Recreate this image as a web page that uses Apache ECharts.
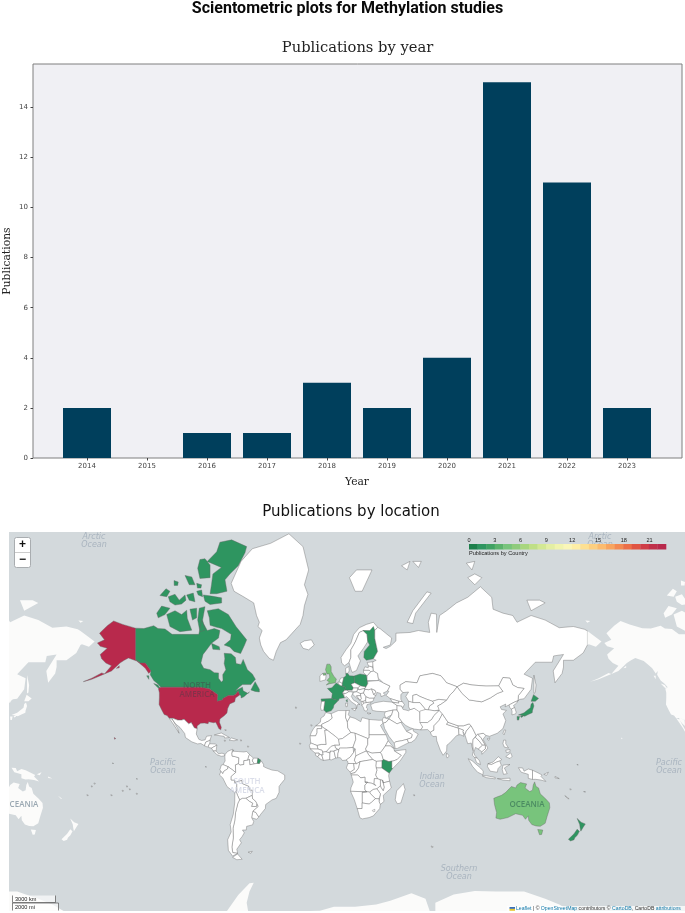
<!DOCTYPE html>
<html><head><meta charset="utf-8">
<script src="https://cdn.jsdelivr.net/npm/echarts@6/dist/echarts.min.js"></script>
<style>html,body{margin:0;padding:0;background:#fff}#c{width:685px;height:913px}</style>
</head><body><div id="c"></div>
<script>
// ---- bar chart data ----
const years = ['2014','2015','2016','2017','2018','2019','2020','2021','2022','2023'];
const publications = [2,0,1,1,3,2,4,15,11,2];
const yTicks = [0,2,4,6,8,10,12,14];

// ---- choropleth data ----
const countryNames = ['United States','Canada','United Kingdom','Australia','France','Spain','Germany','Poland','Finland','Japan','Kenya','New Zealand'];
const countryPublications = [23,1,4,4,1,1,1,1,1,1,1,1];
const legendTicks = ['0','3','6','9','12','15','18','21'];
const legendColors = ['#1d7f4c','#2e9560','#3fa163','#5bb26c','#78c47c','#8fcb7c','#a8d67e','#bfdf86','#d3e893','#e4efa3','#f1f4ae','#faf6b8','#fdeea6','#fde092','#fdcf80','#fcbb6e','#f8a45e','#f38a52','#ec6f48','#e05543','#cf3d47','#c0304a','#b8294c'];

// ---- geography: lon/lat outlines ----
const northAmerica = {
 'Canada':[
  [[-141,69.6],[-135,69.5],[-128,70.2],[-125,69.5],[-120,69.4],[-115,68],[-108,68],[-102,68],[-96,68],[-94,71.5],[-90,69],[-85,69.5],[-81,69],[-82,67],[-87,65.5],[-90,63.8],[-93,62],[-94.5,59],[-92.5,57],[-88,56.5],[-85,55.3],[-82,55.2],[-82,53],[-80,51.3],[-78.8,52],[-79,54.5],[-76.8,56.5],[-78,58.8],[-77.5,60.5],[-78,62.4],[-73,62.2],[-70,61],[-69.5,58.8],[-66,58.5],[-64.5,60.3],[-61.5,56.5],[-58,54.8],[-55.8,52.5],[-59,50.2],[-65,50.2],[-67,49.2],[-70,47.3],[-65,49],[-64.5,47.3],[-61,46],[-60,46.8],[-64,44.3],[-66,43.7],[-66,45],[-67,45.2],[-68,47.2],[-70,45.5],[-71.5,45],[-75,45],[-79,43.4],[-79,42.8],[-83,42],[-82.5,45.3],[-84.7,46.5],[-88.5,48.2],[-95,49],[-123,49],[-125,50.5],[-128,52],[-130.5,54.5],[-130,56],[-134,59],[-137.5,59],[-141,60.2]],
  [[-90,73.5],[-82.1,73.9],[-75,72.7],[-69.6,70],[-62,66.5],[-63.5,65],[-66.3,62.3],[-71,63],[-74,64.4],[-78,65],[-73.5,66.5],[-73,68],[-79.8,69.5],[-83.3,69.8],[-88,70.3],[-88.5,72]],
  [[-118.8,72.7],[-112.9,73.5],[-108.2,72.7],[-104.6,73.6],[-104.2,71.9],[-101,69.1],[-109.4,68.7],[-116.5,70]],
  [[-125.9,73],[-122.4,74.4],[-116.5,74],[-120,72.7],[-124.8,72]],
  [[-83.3,82],[-81,82.9],[-72.7,83.1],[-62,82.5],[-63.2,81.9],[-68,80.5],[-73.9,79.5],[-77.4,78.7],[-76,77],[-83.3,76.6],[-88,76.6],[-87,78],[-86,79.5],[-80,80.3],[-90,81]],
  [[-95.2,81.2],[-91.6,81.3],[-88,80.6],[-88,79],[-95.2,78.9],[-96.8,80.2]],
  [[-92.8,76.4],[-86.9,76.2],[-79.8,75.9],[-79.8,75],[-88,74.7],[-91.6,75.3]],
  [[-105.8,79.3],[-101,79.1],[-98.7,78],[-102.8,78]],
  [[-113.6,78.6],[-110.6,78.4],[-111,77.9],[-113.5,77.9]],
  [[-97.5,78.2],[-94,78],[-94.5,77.5],[-97,77.5]],
  [[-123.6,76.3],[-119.3,77.4],[-116.5,77],[-118.8,76.1]],
  [[-117.7,76.1],[-112.9,76.5],[-109.9,75.5],[-105.8,76.4],[-105.1,75.5],[-108.2,74.8],[-112.9,74.6],[-116.5,75.2]],
  [[-104.6,76.4],[-99.9,76.7],[-98.7,75.2],[-102.8,75.5]],
  [[-97.5,77],[-94,77.2],[-93.3,76.1],[-96.4,76.4]],
  [[-102.3,73.8],[-97.5,74],[-97.5,72],[-100.5,71.5]],
  [[-95.7,74],[-91.6,74.3],[-93.3,71.5],[-91.6,69.1],[-95.2,68.7],[-96.8,71.5]],
  [[-87,65.5],[-81.5,64.5],[-81,63.5],[-86,63.7]],
  [[-59,47.7],[-56,51.5],[-53,48],[-53,46.7],[-56,47]],
  [[-128,50.7],[-125,50],[-123.5,48.5],[-125,48.7]],
  [[-133,54],[-131.5,54],[-131.5,52.5]]],
 'United States':[
  [[-124.7,48.4],[-123,49],[-95,49],[-88.5,48.2],[-84.7,46.5],[-82.5,45.3],[-83,42],[-79,42.8],[-79,43.4],[-75,45],[-71.5,45],[-70,45.5],[-68,47.2],[-67,45.2],[-70,43.7],[-70.5,41.7],[-74,40.6],[-75.5,38],[-76,35.5],[-78,33.9],[-81,32],[-81.3,30],[-80,26.8],[-80.4,25.2],[-81.8,26],[-82.8,28],[-84,30],[-85.5,29.7],[-89,30.3],[-89.4,29.1],[-92,29.5],[-94.7,29.4],[-97.2,27.7],[-97.2,25.9],[-99.2,26.5],[-101.4,29.8],[-103.2,29],[-106.5,31.8],[-108.2,31.3],[-111,31.3],[-114.8,32.5],[-117.1,32.5],[-118.5,34],[-120.6,34.6],[-122.5,37.5],[-124.2,40.3],[-124,44],[-124,46.3]],
  [[-141,69.6],[-141,60.2],[-137.5,59],[-134,59],[-130,56],[-131.5,55],[-134,57],[-136,58],[-140,59.7],[-146,60.8],[-149,60],[-152,59],[-154,58],[-158,56],[-163,54.8],[-158,58],[-162,59],[-165,60.5],[-166,62],[-161,64],[-166,64.6],[-168,65.6],[-163,66.5],[-166.5,68.3],[-161,70.2],[-156.5,71.3],[-150,70.5]],
  [[-163,54.8],[-172,52.5],[-178,51.5],[-178,51.9],[-172,53],[-165,55.2]],
  [[-154.5,57],[-152.5,58],[-152.5,57.2]],
  [[-156,20.2],[-155,19.5],[-155.8,19]]],
 'Mexico':[
  [[-114.8,32.5],[-111,31.3],[-108.2,31.3],[-106.5,31.8],[-103.2,29],[-101.4,29.8],[-99.2,26.5],[-97.2,25.9],[-97.8,22.5],[-96,19],[-94,18.2],[-91.5,18.6],[-90.5,21],[-87,21.5],[-88,18.5],[-89,17.9],[-91,17.2],[-92,14.6],[-94.5,16.2],[-97,15.9],[-101,17.3],[-105.5,20.2],[-106,22.8],[-109.3,26.7],[-112.5,29],[-114.7,31.5]],
  [[-117.1,32.5],[-115,30],[-112,26],[-110,23],[-109.5,23.3],[-111,26],[-113,29],[-114.7,31.7]]],
 'Guatemala':[[[-92,14.6],[-91,17.2],[-89,17.9],[-88,18.5],[-88.3,16],[-89.2,14.5],[-90,13.8]]],
 'Honduras':[[[-89.2,14.5],[-88.3,16],[-84,15.8],[-83.2,15],[-87,13],[-89,13.4]]],
 'Nicaragua':[[[-87,13],[-83.2,15],[-83.7,11],[-85.7,11]]],
 'Panama':[[[-85.7,11],[-83.7,11],[-82,9],[-79.5,9.5],[-77.3,8.6],[-78,7.5],[-80,7.3],[-83,8.3]]],
 'Cuba':[[[-85,21.9],[-80,23.2],[-74.2,20.2],[-77.7,19.9],[-78,21]]],
 'Hispaniola':[[[-74.4,18.4],[-72.8,19.9],[-68.4,18.6],[-71,18]]],
 'Greenland':[[[-73,78.2],[-66,81],[-58,82.3],[-45,82.8],[-32,83.6],[-22,82.5],[-18,80],[-21,78],[-18.5,76.5],[-21,74.5],[-22,72.5],[-24,70.5],[-30,68.2],[-34,66.5],[-38,65.7],[-41,63],[-43,60],[-46,60.7],[-50,63],[-52,65],[-53,67],[-51,69],[-54,70],[-53,71],[-55,72.5],[-57,75],[-65,76.2],[-71,77]]]
};
const southAmerica = {
 'Colombia':[[[-77.3,8.6],[-75.5,10.7],[-72,12.2],[-71.3,11.8],[-72.5,9.5],[-72.3,7.4],[-70,7],[-67.5,6.2],[-67.8,2],[-70,1.2],[-69.8,-4.2],[-72,-2.4],[-75.2,-0.1],[-78.8,1.4],[-77.3,4],[-77.5,7]]],
 'Venezuela':[[[-71.3,11.8],[-71.5,10.8],[-68,10.6],[-64,10.3],[-62,10.7],[-60,8.5],[-60.7,6.8],[-61.2,4.5],[-64,4.2],[-64,1.5],[-66.8,1],[-67.8,2],[-67.5,6.2],[-70,7],[-72.3,7.4],[-72.5,9.5]]],
 'Guyana':[[[-60,8.5],[-57.2,6],[-58,4],[-56.5,1.9],[-59.8,1.3],[-60,5],[-61.2,4.5],[-60.7,6.8]]],
 'Suriname':[[[-57.2,6],[-54,5.9],[-54.5,2.3],[-56.5,1.9],[-58,4]]],
 'Ecuador':[[[-80,1],[-78.8,1.4],[-75.2,-0.1],[-75.5,-1.6],[-78.3,-3.4],[-79,-5],[-80.3,-3.4],[-81,-2.2]]],
 'Peru':[[[-80.3,-3.4],[-79,-5],[-78.3,-3.4],[-75.5,-1.6],[-75.2,-0.1],[-72,-2.4],[-69.8,-4.2],[-73,-7],[-73,-9.5],[-70.5,-9.5],[-70.5,-11],[-69,-12.5],[-69,-16.3],[-69.5,-17.5],[-70.4,-18.3],[-76,-14],[-79,-8],[-81.3,-6]]],
 'Bolivia':[[[-69.5,-17.5],[-69,-16.3],[-69,-12.5],[-70.5,-11],[-65.4,-9.7],[-65,-12],[-60.5,-13.8],[-60,-16.3],[-58,-16.5],[-57.8,-19.8],[-62.6,-22],[-65,-22],[-67,-23],[-68.5,-20]]],
 'Paraguay':[[[-62.6,-22],[-58,-20],[-57.8,-22.2],[-55.5,-24],[-54.6,-25.6],[-55,-27.3],[-58.6,-27.2],[-57.7,-25.2],[-60,-24]]],
 'Uruguay':[[[-58.4,-33.5],[-57.6,-30.2],[-55.5,-30.9],[-53.4,-33.7],[-54.9,-35],[-58.4,-34.2]]],
 'Argentina':[
  [[-67,-23],[-65,-22],[-62.6,-22],[-60,-24],[-57.7,-25.2],[-58.6,-27.2],[-55,-27.3],[-54.6,-25.6],[-53.8,-27.3],[-57.6,-30.2],[-58.4,-33.5],[-58.4,-34.2],[-57,-36.3],[-57.8,-38.2],[-62,-39],[-62.3,-41],[-65,-41],[-63.7,-42.5],[-65.3,-44.5],[-67,-46],[-65.8,-47.5],[-69,-50.5],[-68.4,-52.3],[-71.9,-52],[-72.5,-49.5],[-71.5,-45],[-71.7,-40],[-70.5,-36],[-69.9,-31],[-68.2,-25]],
  [[-68.5,-52.6],[-65.2,-54.8],[-69,-55],[-72,-54]]],
 'Chile':[[[-70.4,-18.3],[-69.5,-17.5],[-68.5,-20],[-67,-23],[-68.2,-25],[-69.9,-31],[-70.5,-36],[-71.7,-40],[-71.5,-45],[-72.5,-49.5],[-71.9,-52],[-68.4,-52.3],[-72,-53.5],[-75,-51],[-75.5,-46],[-73,-42],[-73.7,-38],[-71.5,-32],[-70.5,-25]]],
 'Brazil':[[[-51.6,4],[-50,1.5],[-50,0],[-48,-1],[-44,-2.5],[-40,-3],[-37,-4.8],[-35,-6],[-35,-9],[-37.5,-12],[-39,-14],[-39,-18],[-41,-22],[-44,-23],[-48.5,-26],[-48.7,-28.5],[-52,-32],[-53.4,-33.7],[-55.5,-30.9],[-57.6,-30.2],[-53.8,-27.3],[-54.6,-25.6],[-55.5,-24],[-57.8,-22.2],[-58,-20],[-57.8,-19.8],[-58,-16.5],[-60,-16.3],[-60.5,-13.8],[-65,-12],[-65.4,-9.7],[-70.5,-11],[-70.5,-9.5],[-73,-9.5],[-73,-7],[-69.8,-4.2],[-70,1.2],[-67.8,2],[-66.8,1],[-64,1.5],[-64,4.2],[-61.2,4.5],[-60,5],[-59.8,1.3],[-56.5,1.9],[-54.5,2.3],[-53,2.2]]],
 'Falklands':[[[-61,-51.8],[-58,-51.4],[-59,-52.3]]]
};
const africa = {
 'Morocco':[[[-5.9,35.8],[-2,35.1],[-1.2,32.5],[-3.7,30.8],[-8.7,28.7],[-8.7,27.7],[-13,27.7],[-9.7,30],[-9.3,32.5],[-7,33.8]]],
 'Western Sahara':[[[-13,27.7],[-8.7,27.7],[-8.7,26],[-12,26],[-12,23.4],[-13,21.3],[-17,21.3],[-16,23.7],[-14.5,26]]],
 'Algeria':[[[-2,35.1],[3,36.9],[8.6,36.9],[8.2,33],[9.5,30.2],[9.8,26.5],[12,23.5],[6,19.5],[3.3,19],[1.2,20.8],[-4.8,25],[-8.7,27.3],[-8.7,28.7],[-3.7,30.8],[-1.2,32.5]]],
 'Tunisia':[[[8.6,36.9],[11,37],[10.2,34.5],[11.5,33.2],[10,31],[9.5,30.2],[8.2,33]]],
 'Libya':[[[11.5,33.2],[15,32.3],[19,30.3],[20,32.8],[25,31.7],[25,20],[24,19.5],[15,23],[12,23.5],[9.8,26.5],[9.5,30.2],[10,31]]],
 'Egypt':[[[25,31.7],[32,31.2],[34.3,31.3],[34.9,29.5],[33,28],[35.5,24],[37,22],[25,22]]],
 'Mauritania':[[[-17,21.3],[-13,21.3],[-12,23.4],[-12,26],[-8.7,26],[-8.7,27.3],[-4.8,25],[-6.5,25],[-5.5,15.5],[-9,15.5],[-12,14.8],[-16.5,16.5]]],
 'Mali':[[[-4.8,25],[1.2,20.8],[3.3,19],[4,15],[0.5,15],[-2,14.2],[-5.5,10.5],[-8,10.2],[-8.5,11.5],[-11.4,12.3],[-12,14.8],[-9,15.5],[-5.5,15.5],[-6.5,25]]],
 'Niger':[[[12,23.5],[15,23],[15.5,19],[13.5,13.5],[9,13],[4,13],[3.5,11.8],[1,13.3],[0.5,15],[4,15],[3.3,19],[6,19.5]]],
 'Chad':[[[15,23],[24,19.5],[24,15.5],[22.5,12.5],[23,11],[18.5,9],[15.5,7.5],[14,10],[15,12.5],[13.5,13.5],[15.5,19]]],
 'Sudan':[[[25,22],[37,22],[38.5,18],[36.5,14.5],[34,11],[33,10],[27,9.5],[23,11],[22.5,12.5],[24,15.5],[24,19.5],[25,20]]],
 'South Sudan':[[[23,11],[27,9.5],[33,10],[34,8.5],[35,5],[34,4],[30,3.7],[27.5,5],[24.5,8.5]]],
 'Eritrea':[[[36.5,14.5],[38.5,18],[43,12.7],[40,14.5]]],
 'Ethiopia':[[[36.5,14.5],[40,14.5],[42.5,12.5],[43,11],[47.9,8],[44.9,5],[41.9,3.9],[39,3.5],[35,5],[34,8.5],[33,10],[34,11]]],
 'Somalia':[[[43,11],[51,12],[51,10],[47,4],[41.5,-1.6],[41,-0.8],[41,3.9],[41.9,3.9],[44.9,5],[47.9,8]]],
 'Kenya':[[[34,4],[35,5],[39,3.5],[41,3.9],[41,-0.8],[41.5,-1.6],[39.2,-4.7],[33.9,-1],[34,1.2]]],
 'Uganda':[[[30,3.7],[34,4],[34,1.2],[33.9,-1],[30,-1],[29.7,0.5]]],
 'Tanzania':[[[30,-1],[33.9,-1],[39.2,-4.7],[38.8,-6.5],[39.5,-10.3],[35,-11.5],[34,-9.5],[31,-8.6],[29.5,-6],[30.5,-2.5]]],
 'Senegal':[[[-16.5,16.5],[-12,14.8],[-11.4,12.3],[-16.8,12.4],[-17.5,14.7]]],
 'Guinea':[[[-16.8,12.4],[-11.4,12.3],[-8.5,11.5],[-8,10.2],[-7.7,8.4],[-9.5,8.5],[-10.7,9.5],[-13.3,9.5]]],
 'Sierra Leone':[[[-13.3,9.5],[-10.7,9.5],[-10.7,8.2],[-11.5,7],[-13,7.8]]],
 'Liberia':[[[-11.5,7],[-10.7,8.2],[-9.5,8.5],[-8.5,7.6],[-7.5,4.4],[-9.2,5]]],
 'Ivory Coast':[[[-8.5,7.6],[-7.7,8.4],[-8,10.2],[-5.5,10.5],[-2.8,9.7],[-3,5],[-7.5,4.4]]],
 'Ghana':[[[-3,5],[-2.8,11],[0,11],[0.7,8],[1.2,6],[-2,4.7]]],
 'Burkina Faso':[[[-5.5,10.5],[-2,14.2],[0.5,15],[1,13.3],[2.4,11.9],[0,11],[-2.8,11],[-2.8,9.7]]],
 'Benin':[[[0,11],[2.4,11.9],[3.5,11.8],[2.8,9],[2.7,6.3],[1.2,6],[0.7,8]]],
 'Nigeria':[[[2.7,6.3],[2.8,9],[3.5,11.8],[4,13],[9,13],[13.5,13.5],[14,10],[11.5,6.7],[8.6,4.6],[6,4.3],[4.5,6.3]]],
 'Cameroon':[[[8.6,4.6],[11.5,6.7],[14,10],[15,12.5],[15.5,7.5],[14.5,4.5],[16,2],[10,2.2],[9.7,3.8]]],
 'Central African Republic':[[[15.5,7.5],[18.5,9],[23,11],[24.5,8.5],[27.5,5],[22.5,4.2],[18.5,3.5],[16,2],[14.5,4.5]]],
 'Gabon':[[[10,2.2],[14,2.2],[14.5,-2],[11.5,-4],[8.8,-1],[9.5,1]]],
 'Congo':[[[14,2.2],[16,2],[18.5,3.5],[17.5,-1],[15,-4.3],[12,-5],[11.5,-4],[14.5,-2]]],
 'DR Congo':[[[18.5,3.5],[22.5,4.2],[27.5,5],[30,3.7],[29.7,0.5],[30,-1],[30.5,-2.5],[29.5,-6],[31,-8.6],[28.7,-8.5],[28.5,-12],[29.8,-13.4],[27,-11.8],[22,-11],[22,-7.5],[19,-8],[17,-6],[12.3,-6],[12,-5],[15,-4.3],[17.5,-1]]],
 'Angola':[[[12.3,-6],[17,-6],[19,-8],[22,-7.5],[22,-11],[24,-11],[22,-13],[22,-16.3],[23.4,-17.6],[11.8,-17.3],[12,-15],[13.7,-11],[13,-8.5]]],
 'Zambia':[[[22,-11],[27,-11.8],[29.8,-13.4],[28.5,-12],[28.7,-8.5],[31,-8.6],[33,-9.5],[33,-13.5],[30.5,-15.6],[28,-16],[25.3,-17.8],[23.4,-17.6],[22,-16.3],[22,-13],[24,-11]]],
 'Malawi':[[[33,-9.5],[34.5,-9.6],[35.8,-14.5],[35,-17],[33.3,-14.5],[33,-13.5]]],
 'Mozambique':[[[35,-11.5],[39.5,-10.3],[40.7,-15],[35,-20],[35.5,-24],[32.9,-26],[32,-24],[33,-19],[30.5,-15.6],[33,-13.5],[33.3,-14.5],[35,-17],[35.8,-14.5],[34.5,-9.6]]],
 'Zimbabwe':[[[25.3,-17.8],[28,-16],[30.5,-15.6],[33,-19],[32,-22.3],[29.4,-22.2],[26,-19]]],
 'Botswana':[[[20,-18],[23.4,-17.6],[25.3,-17.8],[26,-19],[29.4,-22.2],[26.5,-24.7],[25,-25.7],[20,-25]]],
 'Namibia':[[[11.8,-17.3],[23.4,-17.6],[20,-18],[20,-28.5],[16.5,-28.6],[14.5,-23]]],
 'South Africa':[[[16.5,-28.6],[20,-28.5],[20,-25],[25,-25.7],[26.5,-24.7],[29.4,-22.2],[32,-22.3],[32,-24],[32.9,-26],[32.5,-28.5],[28,-33],[25,-34],[20,-34.8],[18.3,-34],[17,-30]]],
 'Lesotho':[[[27.2,-29.7],[29,-29],[29,-30.3],[28,-30.6]]],
 'Madagascar':[[[49.3,-12],[50.5,-16],[47.5,-25],[45,-25.5],[43.5,-23],[44.5,-17],[48,-13.5]]]
};
const europe = {
 'Iceland':[[[-24,65.5],[-21,66.2],[-16,66.5],[-14,65],[-18,63.5],[-22,64]]],
 'Svalbard':[[[11,79],[16,80],[27,80],[20,77],[15,77]]],
 'Norway':[[[5,61],[5.5,59],[7.5,58],[10.7,59.2],[12,61],[12,63.5],[14,65],[15.5,66.2],[18,68.5],[21,69],[25,68.6],[29,69],[31,69.8],[28,71],[23,70.5],[18,69.7],[14,68],[12,65.5],[8.5,63.5]]],
 'Sweden':[[[10.7,59.2],[12.3,56.3],[13,55.4],[16,56.2],[18.8,59.8],[17,61.5],[21,64],[24,66],[23.5,68],[21,69],[18,68.5],[15.5,66.2],[14,65],[12,63.5],[12,61]]],
 'Finland':[[[20.6,69],[23.5,68],[24,66],[25.3,65],[21.5,63],[21.2,61],[23,60],[28,60.5],[31,63],[29,66.9],[29,69],[28,70],[25.5,69]]],
 'Denmark':[[[8.2,57],[10.6,57.7],[10.8,56],[9.8,55],[8.4,55]]],
 'United Kingdom':[
  [[-5,58.6],[-3,58.6],[-2,57.6],[-2,55.8],[0,53.7],[1.7,52.7],[1,51],[-3,50.6],[-5.5,50],[-3.2,51.4],[-5,52],[-3,53.4],[-3.3,54.8],[-5,54.8],[-6,56.5]],
  [[-8,55],[-6,55.2],[-5.6,54.3],[-7.5,54.2]]],
 'Ireland':[[[-8,55],[-7.5,54.2],[-5.6,54.3],[-6,52.3],[-10,51.6],[-10,54]]],
 'France':[
  [[-1.7,43.4],[-1.2,46],[-4.7,48.4],[-1.5,48.7],[1.6,50.9],[4.2,49.9],[8.2,49],[7.5,47.5],[6,46.2],[7.5,43.8],[4,43.4],[3.1,42.4]],
  [[8.6,42.3],[9.4,43],[9.5,41.5]],
  [[-54,5.9],[-52,4.6],[-51.6,4],[-53,2.2],[-54.5,2.3]]],
 'Spain':[[[-9.2,43.2],[-1.7,43.4],[3.1,42.4],[0,40],[-0.5,38.3],[-2,36.8],[-5.5,36],[-7.3,37.2],[-7,39.5],[-6.5,42],[-8.8,41.9]]],
 'Portugal':[[[-8.8,41.9],[-6.5,42],[-7,39.5],[-7.3,37.2],[-9,37],[-9.5,38.7]]],
 'Belgium':[[[2.5,51.1],[4.2,51.4],[6,50.7],[5.8,49.5],[4.2,49.9]]],
 'Netherlands':[[[3.5,51.4],[4.7,53],[7,53.3],[6,50.7],[4.2,51.4]]],
 'Germany':[[[6,50.7],[7,53.3],[8.5,54],[8.4,55],[9.8,55],[11,54],[14.2,53.9],[14.7,51],[12.2,50.3],[13.8,48.7],[13,47.5],[7.5,47.5],[8.2,49],[5.8,49.5]]],
 'Poland':[[[14.2,53.9],[18.5,54.8],[23,54.3],[24,50.6],[22.7,49.1],[19,49.4],[14.7,51]]],
 'Switzerland':[[[6,46.2],[7.5,47.5],[9.6,47.5],[10.4,46.8],[8.5,46]]],
 'Austria':[[[9.6,47.5],[13,47.5],[13.8,48.7],[17,48.7],[16.2,46.8],[12,46.8],[10.4,46.8]]],
 'Czechia':[[[12.2,50.3],[14.7,51],[18.8,49.6],[17,48.7],[13.8,48.7]]],
 'Slovakia':[[[17,48.7],[18.8,49.6],[22.5,49.1],[22,48.4],[18,47.8]]],
 'Hungary':[[[16.2,46.8],[17,48],[18,47.8],[22,48.4],[21,46.2],[18.8,45.9],[16.5,46.5]]],
 'Italy':[
  [[7.5,43.8],[6.9,45.9],[8.5,46],[10.4,46.8],[12,46.8],[13.7,46.5],[12.3,44.5],[14,42.5],[16,41.8],[18.5,40.2],[17,40.5],[16.5,39.5],[16,38],[15.7,40],[12.3,41.7],[10.3,43.5],[8.8,44.4]],
  [[12.5,38],[15.6,38.2],[15,36.7]],
  [[8.2,41],[9.7,41],[9.5,39.2],[8.5,39]]],
 'Croatia':[[[13.5,45.5],[13.7,46.5],[16.2,46.8],[18.8,45.9],[19,44.9],[16,44.8],[18.5,42.5],[15,44.3]]],
 'Bosnia':[[[16,44.8],[19,44.9],[19.5,43.3],[18.5,42.5]]],
 'Serbia':[[[18.8,45.9],[21,46.2],[22.7,44.4],[22.5,42.4],[20.6,41.9],[19.3,42],[18.5,42.5],[19.5,43.3],[19,44.9]]],
 'Albania':[[[19.3,42],[20.6,41.9],[21,40.5],[20,39.7],[19.4,41]]],
 'North Macedonia':[[[20.6,41.9],[22.5,42.4],[23,41.3],[21,40.9]]],
 'Greece':[
  [[20,39.7],[21,40.9],[23,41.3],[26.3,41.7],[26,40.8],[23.5,40.2],[23,38.5],[24,37.8],[23,36.5],[21.5,37],[21,38.4]],
  [[23.5,35.6],[26.3,35.3],[24.7,34.9]]],
 'Bulgaria':[[[22.7,44.4],[25,43.7],[28.5,43.7],[27.7,42],[26.3,41.7],[23,41.3],[22.5,42.4]]],
 'Romania':[[[21,46.2],[22,48],[24.8,47.8],[26.6,48.3],[28.2,45.5],[29.7,45],[28.5,43.7],[25,43.7],[22.7,44.4]]],
 'Moldova':[[[26.6,48.3],[29.2,47.5],[30,46.4],[28.2,45.5]]],
 'Ukraine':[[[22,48.4],[22.7,49.1],[24,50.6],[24,51.6],[31.5,52],[35,51],[39.8,49.5],[38,47.2],[35,46.2],[36.5,45.3],[33.5,44.4],[33,46],[30.7,46.5],[29.7,45],[28.2,45.5],[30,46.4],[29.2,47.5],[26.6,48.3],[24.8,47.8],[22,48]]],
 'Belarus':[[[23.5,52],[24,51.6],[31.5,52],[31.5,53],[31,55],[28,56],[26,55.7],[23.5,54]]],
 'Lithuania':[[[21,55.3],[21,56.3],[25,56.3],[26,55.7],[23.5,54],[23,54.3]]],
 'Latvia':[[[21,56.3],[22,57.6],[24.3,57.2],[24.5,58],[27.5,57.5],[28,56],[26,55.7],[25,56.3]]],
 'Estonia':[[[23.5,59.2],[28,59.5],[27.5,57.5],[24.5,58]]]
};
const asia = {
 'Russia':[
  [[31,69.8],[33,69.4],[41,67],[40,65],[35,64.3],[37,63.9],[40,64.6],[44,66.2],[44,68.3],[54,68.5],[60,69],[68,68.5],[67,71],[69,73],[72.8,72.8],[73,68.5],[75,72.5],[80,73.5],[87,75],[95,76],[104,77.7],[112,76],[113,73.8],[120,73],[127,72.5],[130,71],[140,72.5],[150,71.5],[160,69.7],[170,70],[178,69.3],[180,68.9],[180,65],[177,62.5],[170,60],[163,60],[163,57.5],[162,55],[157,51],[155.7,56],[158,58],[163,62],[156,61.5],[155,59.3],[143,59.3],[135,54.7],[141,53],[140,48],[135,43.3],[132,43],[130.7,42.3],[131,45],[135,48.4],[130.5,48.8],[127,50],[125,53],[120,53.3],[117,49.6],[108,49.5],[98,50],[92,50.8],[87.5,49.2],[80,51],[76,54],[70,55],[61,54],[59,51],[51,51.5],[47,50],[47,48],[49,46.4],[47.5,45.5],[47.5,43],[48.5,41.8],[46,42],[40,43.4],[37,45],[39,47],[38,47.2],[39.8,49.5],[35,51],[31.5,53],[31,55],[28,56],[27.5,59.4],[30,60],[28,60.5],[31,63],[29,66.9],[29,69]],
  [[52,71],[56,73.5],[66,76.9],[69,76.7],[58,73],[56,70.7]],
  [[142,54.3],[143.5,50],[143,46.5],[142,46],[142,50]],
  [[95,79],[100,79.5],[105,79],[100,78]],
  [[94,80.8],[100,81],[98,80]],
  [[137,75.5],[146,75.5],[150,75],[140,73.5]],
  [[48,80.5],[54,81],[52,80]],[[56,81],[62,81],[60,80.3]]],
 'Turkey':[[[26,40.2],[29,41.2],[35,42],[41.5,41.5],[44.8,39.7],[44.8,37.2],[42,37.2],[36.5,36.2],[30.5,36.5],[27.3,37]]],
 'Syria':[[[36.5,36.2],[42,37.2],[41,34.5],[36.8,32.4],[35.8,34.8]]],
 'Iraq':[[[41,34.5],[42,37.2],[44.8,37.2],[46,35.5],[46,33],[48.5,30],[47.7,30],[44.8,29],[39,32]]],
 'Jordan':[[[34.3,31.3],[35.2,33],[36.8,32.4],[39,32],[37,30],[35,29.4]]],
 'Saudi Arabia':[[[35,29.4],[37,30],[39,32],[44.8,29],[47.7,30],[48.5,28.5],[50.2,26],[51.5,24.3],[55,22.7],[55.7,22],[55,20],[52,19],[48,18],[44,17.4],[42.8,16.4],[39,21],[36,26]]],
 'Yemen':[[[42.8,16.4],[44,17.4],[48,18],[52,19],[53,16.7],[45,12.8],[43.5,12.7]]],
 'Oman':[[[51.5,24.3],[56,26],[56.5,24.3],[59.8,22.5],[57.8,19],[55,17],[53,16.7],[52,19],[55,20],[55.7,22],[55,22.7]]],
 'Iran':[[[44.8,39.7],[48,39.5],[49,37.6],[53,36.8],[54,37.4],[57,38.2],[61,36.6],[61,31.5],[63,27],[61.6,25.2],[57,25.7],[54,26.6],[51,28],[48.5,30],[46,33],[46,35.5],[44.8,37.2]]],
 'Georgia':[[[40,43.4],[46,42],[46,41],[41.5,41.5]]],
 'Azerbaijan':[[[46,42],[48.5,41.8],[50,40.3],[48.9,38.5],[48,39.5],[44.8,39.7],[41.5,41.5],[46,41]]],
 'Kazakhstan':[[[47,48],[47,50],[51,51.5],[59,51],[61,54],[70,55],[76,54],[80,51],[87.5,49.2],[85,47],[82.5,45.3],[80,42.5],[74.5,43],[70,42],[66,43],[61,44.5],[58.5,45.5],[56,45],[56,41.3],[53,42],[51,44.5],[53,46.7],[49,46.4]]],
 'Uzbekistan':[[[56,45],[58.5,45.5],[61,44.5],[66,43],[70,42],[71,41],[68,39.5],[67,37.3],[65,37.5],[61,41.3],[57,41.3],[56,41.3]]],
 'Turkmenistan':[[[53,42],[56,41.3],[61,41.3],[65,37.5],[61,36],[57,38.2],[54,37.4],[53,39]]],
 'Kyrgyzstan':[[[70,42],[74.5,43],[80,42.5],[76,40.4],[73.7,39.5],[75,37.3],[71.5,36.8],[67,37.3],[68,39.5],[71,41]]],
 'Afghanistan':[[[61,36.6],[65,37.5],[67,37.3],[71.5,36.8],[74.8,37],[71,34],[69.5,31.8],[66.5,29.8],[61,29.8],[61,31.5]]],
 'Pakistan':[[[61,29.8],[66.5,29.8],[69.5,31.8],[71,34],[74.8,37],[77,35],[74.5,31],[71,27.8],[71,25],[68.5,23.7],[66.5,25.4],[61.6,25.2],[63,27]]],
 'India':[[[68.5,23.7],[71,25],[71,27.8],[74.5,31],[77,35],[79,32.5],[81,30],[80,28.7],[88,26.4],[88.1,27.8],[92,27.8],[96,29],[97.3,27.9],[94,24.5],[93,22],[91.5,24.2],[92,25],[88.5,26.2],[88.8,22],[87,21.4],[82.3,16.6],[80.2,15],[80,11],[77.5,8],[75.5,11.5],[73,18],[72.7,21],[70.3,20.8],[69,22.3]]],
 'Nepal':[[[80,28.7],[81,30],[88.1,27.8],[88,26.4]]],
 'Bangladesh':[[[88.5,26.2],[92,25],[91.5,24.2],[92.3,21],[90,22],[88.8,22]]],
 'Sri Lanka':[[[80,9.7],[81.8,7.5],[80.5,6],[79.8,7.5]]],
 'Myanmar':[[[93,22],[94,24.5],[97.3,27.9],[98.7,25.8],[101,21.5],[98.8,19],[98.6,16],[99,11],[98,14],[97.5,16.5],[95,16],[94,19]]],
 'Thailand':[[[98.8,19],[100.5,20.3],[103,18],[105.5,15],[102.5,12.3],[100.5,13.5],[99.3,10],[100,8],[101.7,6],[100,6.4],[98.3,8],[99,11],[98.6,16]]],
 'Laos':[[[100.5,20.3],[101,21.5],[102,22.4],[104.5,20],[107.5,15],[105.5,15],[103,18]]],
 'Vietnam':[[[102,22.4],[106,23],[108,21.6],[105.8,19],[109.3,13],[107,10.4],[105,8.7],[105,10.5],[107.5,12.5],[107.5,15],[104.5,20]]],
 'Cambodia':[[[102.5,12.3],[105.5,15],[107.5,15],[107.5,12.5],[105,10.5]]],
 'Malaysia':[[[100,6.4],[101.7,6],[103.4,4],[104,1.4],[101.3,2.8]],[[109.3,2],[113,3.2],[116.7,7],[119.2,5],[117.7,4],[115,3],[112,1.5]]],
 'China':[[[73.7,39.5],[76,40.4],[80,42.5],[82.5,45.3],[85,47],[87.5,49.2],[91,46],[96,42.7],[105,41.7],[111,43.7],[116,46],[120,47],[117,49.6],[120,53.3],[125,53],[127,50],[130.5,48.8],[135,48.4],[131,45],[130.7,42.3],[128,41.5],[124.3,40],[121.5,39],[122,40.5],[118,39],[119,37.5],[122.5,37],[120,35],[122,31],[120,26],[116,23],[110.5,21],[108,21.6],[106,23],[102,22.4],[101,21.5],[98.7,25.8],[97.3,27.9],[96,29],[92,27.8],[88.1,27.8],[81,30],[79,32.5],[77,35],[74.8,37],[75,37.3]],[[108.7,19.3],[110.8,20],[110,18.3]]],
 'Mongolia':[[[87.5,49.2],[92,50.8],[98,50],[108,49.5],[117,49.6],[120,47],[116,46],[111,43.7],[105,41.7],[96,42.7],[91,46]]],
 'North Korea':[[[124.3,40],[128,41.5],[130.7,42.3],[129.7,41],[127.5,39.7],[128.3,38.6],[126,37.7],[125,38.5]]],
 'South Korea':[[[126,37.7],[128.3,38.6],[129.4,36],[129,35],[126.4,34.4],[126.5,36.5]]],
 'Japan':[
  [[131,34.4],[135,35.6],[137,37],[139.5,38.5],[140,40.5],[141.3,41.3],[142,39.5],[141,37],[140.8,35.7],[138,34.7],[135.5,33.6],[133,34.2]],
  [[140,42],[141.7,45.4],[145.3,43.5],[143,42]],
  [[130,33.5],[131.8,33.5],[131.2,31.3],[130.2,31.3]],
  [[132.5,33.8],[134.5,34],[134,33.3],[132.9,32.9]]],
 'Taiwan':[[[121,25.2],[122,25],[120.8,22],[120,23]]],
 'Philippines':[[[120.5,18.5],[122,18.4],[122,16],[124,13],[121,13.7],[120,16]],[[122,7],[125.5,9.7],[126.5,7.3],[125,5.7]],[[122,11.5],[125,12],[125,10.5],[122.5,9.8]]],
 'Indonesia':[
  [[95.3,5.6],[98,4.2],[104,-1],[106,-3.2],[105.8,-5.8],[102,-4],[98.5,0]],
  [[105.3,-6.5],[108.5,-6.5],[114.5,-7.7],[114.5,-8.7],[108,-7.8]],
  [[109.3,1.9],[112,1.5],[115,3],[117.7,4],[118.8,1],[116.5,-1.5],[116,-4],[111,-3.3],[109,0]],
  [[120,1],[125,1.5],[121,-1],[123,-5],[120.4,-5.5],[119.5,-2]],
  [[131,-0.8],[134,-1],[135,-3.3],[138,-1.7],[141,-2.6],[141,-9.1],[138,-8.3],[138,-5.5],[133,-4],[132,-2.5]],
  [[116,-8.5],[119,-8.5],[125,-8.2],[125,-10],[120,-9.5]]],
 'Papua New Guinea':[[[141,-2.6],[145,-4.5],[147.8,-6],[147,-7],[150.5,-10.5],[147,-9.5],[143,-9],[141,-9.1]],[[149,-5.5],[152.3,-4],[151,-6.2]]]
};
const oceania = {
 'Australia':[
  [[113.5,-22],[114,-26],[115.5,-31],[115,-34.3],[118,-35],[123.5,-34],[129,-31.7],[134,-32.7],[136,-35],[138,-33],[138.3,-35.6],[140.5,-38],[143.5,-38.8],[146.5,-39],[150,-37.3],[151.3,-33.5],[153.3,-28],[153,-25],[150.5,-22.5],[146.5,-19],[145.3,-15],[143.5,-14],[142.5,-10.8],[141.5,-13],[141,-16.5],[139,-17.5],[135.7,-15],[136.8,-12.2],[132.5,-11.3],[130,-13],[129,-15],[126,-14],[122,-18],[119,-20],[116,-21]],
  [[144.7,-40.7],[148.3,-41],[147.5,-43.3],[146,-43.5]]],
 'New Zealand':[
  [[172.7,-34.5],[175.5,-36.7],[178.5,-37.7],[177,-39.5],[175.3,-41.6],[174.8,-39.8],[174.5,-38]],
  [[172.7,-40.6],[174.3,-41.7],[172.8,-43.8],[171,-45],[170.5,-46],[168,-46.6],[166.5,-45.8],[170.5,-43]]],
 'New Caledonia':[[[164,-20.2],[167,-22.3],[166,-22.2]]],
 'Fiji':[[[177.3,-17.5],[178.7,-17.7],[178,-18.3]]],
 'Solomon Islands':[[[157,-7],[160,-8.5],[159.5,-9.2],[157,-8]]],
 'Kerguelen':[[[69,-49],[70.5,-49.4],[69.5,-49.8]]]
};
const islandSpecks = [[-145,-16],[-150,-17],[-140,-9],[-172,-14],[-175,-20],[-157,2],[-91,-0.5],[-24,16],[-16,28],[-27,38.5],[-77,25],[-77.5,18],[-66,18.2],[-61,14],[-170,-12],[-158,-20],[168,-16],[173,1],[57,-20],[-140,-19],[-147,-14]];
// coastline of the base tile layer (no country overlay)
const chukotkaTile = [[180,68.9],[185,67.5],[190,66],[186,64.5],[181,65.2],[180,65]];
const wrangelTile = [[178.5,71.4],[182,71.3],[180,70.9]];
const antarcticaEast = [[-17,-71.03],[-10,-71],[0,-70],[15,-70],[30,-69.5],[40,-68.5],[55,-66.5],[65,-68],[68,-71.03],[72,-71.03],[72,-69],[85,-66.8],[100,-65.8],[115,-66],[135,-66],[150,-68],[160,-69.5],[168,-71.03]];
const antarcticaPeninsula = [[-76,-71.03],[-68,-67],[-60,-63.5],[-57,-63.3],[-60,-66],[-62,-69],[-61,-71.03]];

// ---- map window (Mercator, world repeats) ----
const lonWest = -230.8, lonEast = 249.3, latNorth = 83.74, latSouth = -71.03;
const rad = Math.PI/180;
const mercator = {
  project: p => [p[0]*rad, -Math.log(Math.tan(Math.PI/4 + p[1]*rad/2))],
  unproject: p => [p[0]/rad, (2*Math.atan(Math.exp(-p[1])) - Math.PI/2)/rad]
};
function clipLon(poly, lim, keepGreater){
  const inside = q => keepGreater ? q[0] >= lim : q[0] <= lim, out = [];
  poly.forEach((a,i)=>{
    const b = poly[(i+1)%poly.length];
    if (inside(a)) out.push(a);
    if (inside(a) !== inside(b)) {
      const t = (lim-a[0])/(b[0]-a[0]);
      out.push([lim, a[1]+t*(b[1]-a[1])]);
    }
  });
  return out;
}
const shift = (poly,d) => poly.map(q=>[q[0]+d,q[1]]);
const closeRing = p => [[...p, p[0]]];
const allTables = [northAmerica, southAmerica, africa, europe, asia, oceania];
const features = [];
allTables.forEach(t => Object.keys(t).forEach(name => {
  features.push({type:'Feature',properties:{name},geometry:{type:'MultiPolygon',coordinates:t[name].map(closeRing)}});
}));
features.push({type:'Feature',properties:{name:'Islands'},geometry:{type:'MultiPolygon',coordinates:islandSpecks.map(q=>closeRing([[q[0]-0.5,q[1]+0.4],[q[0]+0.5,q[1]+0.2],[q[0],q[1]-0.5]]))}});
// repeated world copies belong to the base tiles only
let tilePolys = [chukotkaTile, wrangelTile, antarcticaEast, antarcticaPeninsula,
  shift(chukotkaTile,-360), shift(wrangelTile,-360), shift(antarcticaEast,-360)];
['Russia','China','Japan','Indonesia','Papua New Guinea','North Korea','South Korea','Philippines'].forEach(n => asia[n].forEach(p => tilePolys.push(shift(p,-360))));
Object.keys(oceania).forEach(n => oceania[n].forEach(p => tilePolys.push(shift(p,-360))));
['Canada','United States','Mexico'].forEach(n => northAmerica[n].forEach(p => tilePolys.push(shift(p,360))));
tilePolys = tilePolys.map(p => clipLon(clipLon(p,lonWest,true),lonEast,false)).filter(p => p.length>2);
features.push({type:'Feature',properties:{name:'tiles'},geometry:{type:'MultiPolygon',coordinates:tilePolys.map(closeRing)}});
echarts.registerMap('world', {type:'FeatureCollection',features});

const choropleth = countryNames.map((name,i)=>({name, value:countryPublications[i],
  itemStyle:{areaColor:legendColors[Math.min(countryPublications[i],legendColors.length-1)]}}));
choropleth.push({name:'tiles', itemStyle:{areaColor:'#fbfbfa', borderWidth:0}});

// ---- overlay graphics ----
const labelFont = '"Open Sans", sans-serif';
const oceanLabel = (t,x,y) => ({type:'text',z:10,silent:true,style:{text:t,x,y,align:'center',verticalAlign:'middle',fontFamily:'"DejaVu Sans"',fontSize:8,fontStyle:'italic',lineHeight:8,fill:'#a9b4bf'}});
const continentLabel = (t,x,y,c) => ({type:'text',z:10,silent:true,style:{text:t,x,y,align:'center',verticalAlign:'middle',fontFamily:labelFont,fontSize:8,fontWeight:600,lineHeight:9,fill:c}});
const smallText = (t,x,y,align) => ({type:'text',z:12,silent:true,style:{text:t,x,y,align:align||'center',verticalAlign:'middle',fontFamily:'"Liberation Sans", sans-serif',fontSize:5.6,fill:'#222'}});
const legendLeft = 469, legendWidth = 197, tickStep = 8.6;
const graphics = [
  {type:'rect',z:0,silent:true,shape:{x:33,y:64,width:649,height:394},style:{fill:'#f0f0f4',stroke:'#7f7f7f',lineWidth:1}},
  {type:'rect',z:0,silent:true,shape:{x:9,y:532,width:676,height:379},style:{fill:'#d3d9dc'}},
  oceanLabel('Arctic\nOcean',94,540.5), oceanLabel('Arctic\nOcean',600,540.5),
  oceanLabel('Pacific\nOcean',163,767), oceanLabel('Pacific\nOcean',669,767),
  oceanLabel('Indian\nOcean',432,780.5), oceanLabel('Southern\nOcean',459,872.5),
  continentLabel('NORTH\nAMERICA',197,690,'rgba(70,60,70,0.45)'),
  continentLabel('SOUTH\nAMERICA',247,786,'rgba(205,210,225,0.75)'),
  continentLabel('OCEANIA',527,805,'rgba(60,120,90,0.75)'),
  continentLabel('CEANIA',24,805,'#9aa8b2'),
  // legend
  ...legendColors.map((c,i)=>({type:'rect',z:11,silent:true,shape:{x:legendLeft+i*legendWidth/legendColors.length,y:544,width:legendWidth/legendColors.length+0.3,height:5.5},style:{fill:c}})),
  ...legendTicks.map(t=>smallText(t,legendLeft+Number(t)*tickStep,540.5)),
  smallText('Publications by Country',legendLeft,553.5,'left'),
  // zoom control
  {type:'rect',z:12,silent:true,shape:{x:14.5,y:537.5,width:16,height:30,r:2},style:{fill:'#fff',stroke:'#a9adb0',lineWidth:1}},
  {type:'line',z:13,silent:true,shape:{x1:15,y1:552.5,x2:30,y2:552.5},style:{stroke:'#ccc',lineWidth:1}},
  {type:'text',z:13,silent:true,style:{text:'+',x:22.5,y:545,align:'center',verticalAlign:'middle',fontFamily:'"Liberation Sans"',fontSize:12,fontWeight:'bold',fill:'#111'}},
  {type:'text',z:13,silent:true,style:{text:'−',x:22.5,y:560,align:'center',verticalAlign:'middle',fontFamily:'"Liberation Sans"',fontSize:12,fontWeight:'bold',fill:'#111'}},
  // scale bars
  {type:'rect',z:12,silent:true,shape:{x:12.5,y:895.5,width:43,height:7},style:{fill:'rgba(255,255,255,0.65)'}},
  {type:'polyline',z:13,silent:true,shape:{points:[[12.5,895.5],[12.5,902.5],[55.5,902.5],[55.5,895.5]]},style:{fill:'none',stroke:'#666',lineWidth:0.8}},
  {type:'rect',z:12,silent:true,shape:{x:12.5,y:903,width:46,height:7.5},style:{fill:'rgba(255,255,255,0.65)'}},
  {type:'polyline',z:13,silent:true,shape:{points:[[12.5,910.5],[12.5,903],[58.5,903],[58.5,910.5]]},style:{fill:'none',stroke:'#666',lineWidth:0.8}},
  smallText('3000 km',15,899,'left'), smallText('2000 mi',15,907,'left'),
  // attribution
  {type:'rect',z:12,silent:true,shape:{x:507,y:906,width:178,height:5},style:{fill:'rgba(255,255,255,0.75)'}},
  {type:'rect',z:13,silent:true,shape:{x:509.5,y:907,width:5.5,height:1.9},style:{fill:'#3a6fb5'}},
  {type:'rect',z:13,silent:true,shape:{x:509.5,y:908.9,width:5.5,height:1.9},style:{fill:'#e8c62f'}},
  {type:'text',z:13,silent:true,style:{text:'{a|Leaflet} | © {a|OpenStreetMap} contributors © {a|CartoDB}, CartoDB {a|attributions}',x:516,y:908.7,align:'left',verticalAlign:'middle',fontFamily:'"Liberation Sans"',fontSize:5.15,fill:'#333',rich:{a:{fill:'#0f78a8',fontFamily:'"Liberation Sans"',fontSize:5.15}}}}
];

const chart = echarts.init(document.getElementById('c'), null, {renderer:'canvas'});
chart.setOption({
  animation:false,
  backgroundColor:'#fff',
  title:[
    {text:'Scientometric plots for Methylation studies',left:347.5,top:1,padding:0,textAlign:'center',textStyle:{fontFamily:'Roboto',fontWeight:'bold',fontSize:16,color:'#0a0a0a'}},
    {text:'Publications by year',left:357.5,top:41,padding:0,textAlign:'center',textStyle:{fontFamily:'"DejaVu Serif"',fontWeight:'normal',fontSize:14.7,color:'#222'}},
    {text:'Publications by location',left:351,top:505,padding:0,textAlign:'center',textStyle:{fontFamily:'"DejaVu Sans"',fontWeight:'normal',fontSize:15,color:'#111'}}
  ],
  grid:{left:57,right:28,top:64,bottom:455,outerBoundsMode:'none'},
  xAxis:{type:'category',data:years,name:'Year',nameLocation:'middle',nameGap:19,
    nameTextStyle:{fontFamily:'"DejaVu Serif"',fontSize:10.7,color:'#222'},
    axisLine:{show:false},axisTick:{show:true,alignWithLabel:true,length:2.5,lineStyle:{color:'#444'}},
    axisLabel:{fontFamily:'"DejaVu Sans"',fontSize:7,color:'#444',margin:5}},
  yAxis:{type:'value',min:0,max:15.73,offset:24,name:'Publications',nameLocation:'middle',nameGap:20,nameMoveOverlap:false,
    nameTextStyle:{fontFamily:'"DejaVu Serif"',fontSize:10.8,color:'#222'},
    splitLine:{show:false},axisLine:{show:false},
    axisTick:{show:true,length:2.5,customValues:yTicks,lineStyle:{color:'#444'}},
    axisLabel:{fontFamily:'"DejaVu Sans"',fontSize:7,color:'#444',margin:5,customValues:yTicks}},
  series:[
    {type:'bar',data:publications,barWidth:48,itemStyle:{color:'#003f5c'},silent:true},
    {type:'map',map:'world',projection:mercator,boundingCoords:[[lonWest,latNorth],[lonEast,latSouth]],
     left:9,top:532,width:676,height:379,silent:true,roam:false,selectedMode:false,
     label:{show:false},emphasis:{disabled:true},
     itemStyle:{areaColor:'#ffffff',borderColor:'#666666',borderWidth:0.4},
     data:choropleth}
  ],
  graphic:{elements:graphics}
});
</script></body></html>
